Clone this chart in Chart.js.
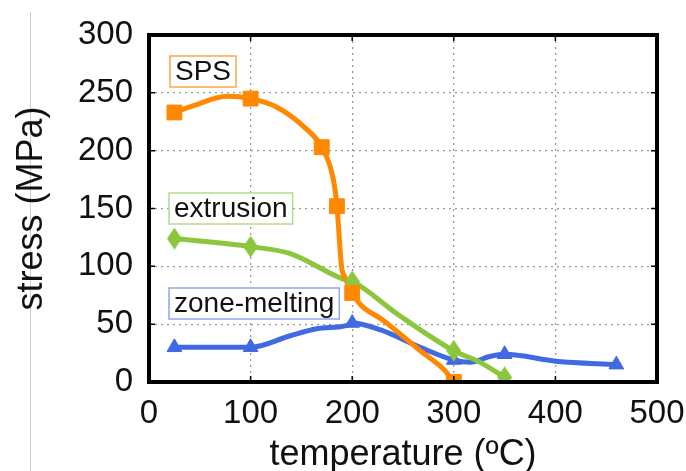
<!DOCTYPE html>
<html><head><meta charset="utf-8">
<script src="https://cdn.jsdelivr.net/npm/chart.js@4"></script>
<style>html,body{margin:0;padding:0;background:#fff}canvas{display:block}</style>
</head><body>
<canvas id="c" width="686" height="471"></canvas>
<script>
// Axis ticks
const xTicks = [0, 100, 200, 300, 400, 500];
const yTicks = [0, 50, 100, 150, 200, 250, 300];

// Measured points (temperature in °C, stress in MPa)
const seriesNames = ['SPS', 'extrusion', 'zone-melting'];

const spsTemp = [25, 100, 170, 185, 200, 300];
const spsStress = [233, 245, 203, 152, 77, 0];
const extTemp = [25, 100, 200, 300, 350];
const extStress = [124, 117, 87, 27, 4];
const zmTemp = [25, 100, 200, 300, 350, 460];
const zmStress = [30, 30, 51, 19, 24, 15];

// Extra points along each trend curve between the measurements
const spsCurveTemp = [44, 77, 125, 152, 181, 189.5, 193, 208, 231, 267, 290];
const spsCurveStress = [239, 247, 238, 221, 177, 100, 90, 67, 53, 27, 11];
const extCurveTemp = [139, 191, 244, 326];
const extCurveStress = [111, 89, 59, 17];
const zmCurveTemp = [60, 139, 165, 195, 228, 267, 316, 335, 401];
const zmCurveStress = [30, 40, 46, 49, 45, 30, 17, 22, 18];

const ORANGE = '#ff8800', GREEN = '#8cc63f', BLUE = '#4169e1';

function pts(xs, ys) { return xs.map((x, i) => ({ x, y: ys[i] })); }
function curve(mx, my, cx, cy) {
  return pts(mx, my).concat(pts(cx, cy)).sort((a, b) => a.x - b.x);
}

// Tall diamond marker for the extrusion series
function diamond(color, w, h) {
  const c = document.createElement('canvas');
  c.width = w; c.height = h;
  const g = c.getContext('2d');
  g.fillStyle = color;
  g.beginPath();
  g.moveTo(w / 2, 0); g.lineTo(w, h / 2); g.lineTo(w / 2, h); g.lineTo(0, h / 2);
  g.closePath(); g.fill();
  return c;
}

function lineSet(data, color) {
  return { type: 'line', data, borderColor: color, borderWidth: 5, pointRadius: 0,
    cubicInterpolationMode: 'monotone', fill: false, order: 2 };
}
function markSet(data, color, style, r) {
  return { type: 'line', data, showLine: false, pointStyle: style, pointRadius: r,
    backgroundColor: color, borderColor: color, borderWidth: 1, order: 1 };
}

const FONT = 'Liberation Sans, Arial, sans-serif';

const framePlugin = {
  id: 'frame',
  beforeDraw(chart) {
    const ctx = chart.ctx;
    ctx.save();
    ctx.strokeStyle = '#cccccc';
    ctx.lineWidth = 1;
    ctx.beginPath(); ctx.moveTo(30.5, 12); ctx.lineTo(30.5, 471); ctx.stroke();
    ctx.restore();
  },
  afterDraw(chart) {
    const { ctx, chartArea: a, scales } = chart;
    ctx.save();
    ctx.strokeStyle = '#000';
    ctx.lineWidth = 1.5;
    ctx.beginPath();
    xTicks.forEach(v => {
      const px = scales.x.getPixelForValue(v);
      ctx.moveTo(px, a.bottom); ctx.lineTo(px, a.bottom - 6);
      ctx.moveTo(px, a.top); ctx.lineTo(px, a.top + 6);
    });
    yTicks.forEach(v => {
      const py = scales.y.getPixelForValue(v);
      ctx.moveTo(a.left, py); ctx.lineTo(a.left + 6, py);
      ctx.moveTo(a.right, py); ctx.lineTo(a.right - 6, py);
    });
    ctx.stroke();
    ctx.lineWidth = 4;
    ctx.strokeRect(a.left, a.top, a.right - a.left, a.bottom - a.top);

    // Series labels in framed boxes
    const labels = [
      { text: seriesNames[0], color: '#ffa64d', x: 170, y: 56 },
      { text: seriesNames[1], color: '#b3dc8c', x: 169, y: 193 },
      { text: seriesNames[2], color: '#8fa8ee', x: 169, y: 288 }
    ];
    ctx.font = '28px ' + FONT;
    ctx.textBaseline = 'middle';
    ctx.textAlign = 'left';
    labels.forEach(l => {
      const w = ctx.measureText(l.text).width + 10;
      ctx.fillStyle = '#fff';
      ctx.fillRect(l.x, l.y, w, 31);
      ctx.lineWidth = 1.5;
      ctx.strokeStyle = l.color;
      ctx.strokeRect(l.x, l.y, w, 31);
      ctx.fillStyle = '#111';
      ctx.fillText(l.text, l.x + 5, l.y + 16);
    });
    ctx.restore();
  }
};

new Chart(document.getElementById('c'), {
  type: 'line',
  data: {
    datasets: [
      lineSet(curve(spsTemp, spsStress, spsCurveTemp, spsCurveStress), ORANGE),
      lineSet(curve(extTemp, extStress, extCurveTemp, extCurveStress), GREEN),
      lineSet(curve(zmTemp, zmStress, zmCurveTemp, zmCurveStress), BLUE),
      markSet(pts(spsTemp, spsStress), ORANGE, 'rect', 10.5),
      markSet(pts(extTemp, extStress), GREEN, diamond(GREEN, 15, 22), 10),
      markSet(pts(zmTemp, zmStress), BLUE, 'triangle', 8.5)
    ]
  },
  options: {
    responsive: false,
    animation: false,
    layout: { padding: { top: 35, right: 29, bottom: 0, left: 0 } },
    plugins: { legend: { display: false }, tooltip: { enabled: false } },
    scales: {
      x: {
        type: 'linear', min: 0, max: 500,
        afterBuildTicks(s) { s.ticks = xTicks.map(v => ({ value: v })); },
        afterFit(s) { s.height = 89; s.paddingLeft = 0; s.paddingRight = 0; },
        grid: { color: '#999', lineWidth: 1.3, drawTicks: false },
        border: { display: false, dash: [2, 4] },
        ticks: { color: '#111', font: { family: FONT, size: 33 }, padding: 12, maxRotation: 0 },
        title: { display: true, text: 'temperature (ºC)', color: '#111',
          font: { family: FONT, size: 36, lineHeight: 0.9 }, padding: { top: 0, bottom: 0 } }
      },
      y: {
        type: 'linear', min: 0, max: 300,
        afterBuildTicks(s) { s.ticks = yTicks.map(v => ({ value: v })); },
        afterFit(s) { s.width = 149; s.paddingTop = 0; s.paddingBottom = 0; },
        grid: { color: '#999', lineWidth: 1.3, drawTicks: false },
        border: { display: false, dash: [2, 4] },
        ticks: { color: '#111', font: { family: FONT, size: 33 }, padding: 16 },
        title: { display: true, text: 'stress (MPa)', color: '#111',
          font: { family: FONT, size: 36, lineHeight: 1.2 }, padding: { top: 10, bottom: 0 } }
      }
    }
  },
  plugins: [framePlugin]
});
</script>
</body></html>
